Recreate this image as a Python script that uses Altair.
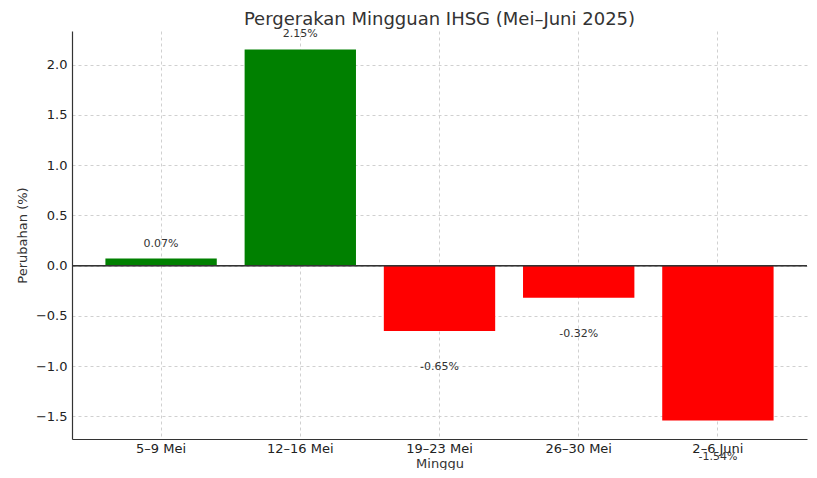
import altair as alt
import pandas as pd

weeks = ["5–9 Mei", "12–16 Mei", "19–23 Mei", "26–30 Mei", "2–6 Juni"]
changes = [0.07, 2.15, -0.65, -0.32, -1.54]
labels = ["0.07%", "2.15%", "-0.65%", "-0.32%", "-1.54%"]

df = pd.DataFrame({"week": weeks, "change": changes, "label": labels})

FONT = "DejaVu Sans"
ydom = [-1.7245, 2.3345]

x_enc = alt.X("week:N", sort=weeks, title="Minggu",
              scale=alt.Scale(paddingInner=0.2, paddingOuter=0.24),
              axis=alt.Axis(labelAngle=0, labelFontSize=13, titleFontSize=13,
                            labelColor="#222", titleColor="#333",
                            ticks=False, labelPadding=3,
                            titleY=28, titleBaseline="alphabetic",
                            grid=True, gridDash=[3, 3], gridColor="#d0d0d0",
                            domainColor="#333", domainWidth=1.2))
y_scale = alt.Scale(domain=ydom, nice=False, zero=False)

base = alt.Chart(df)

bars = base.mark_bar().encode(
    x=x_enc,
    y=alt.Y("change:Q", title="Perubahan (%)", scale=y_scale,
            axis=alt.Axis(values=[-1.5, -1.0, -0.5, 0.0, 0.5, 1.0, 1.5, 2.0],
                          format=".1f", labelFontSize=13, titleFontSize=13,
                          labelColor="#222", titleColor="#333",
                          ticks=False, labelPadding=5, titlePadding=6,
                          grid=True, gridDash=[3, 3], gridColor="#d0d0d0",
                          domainColor="#333", domainWidth=1.2)),
    y2=alt.datum(0),
    color=alt.condition("datum.change >= 0", alt.value("#008000"), alt.value("#ff0000")),
)

zero = base.mark_rule(color="#333", strokeWidth=1).encode(y=alt.datum(0))

pos_text = base.transform_filter("datum.change >= 0").transform_calculate(
    ly="datum.change + 0.1"
).mark_text(baseline="bottom", fontSize=11, color="#333", font=FONT).encode(
    x=alt.X("week:N", sort=weeks),
    y=alt.Y("ly:Q", scale=y_scale),
    text="label:N",
)

neg_text = base.transform_filter("datum.change < 0").transform_calculate(
    ly="datum.change - 0.3"
).mark_text(baseline="top", fontSize=11, color="#333", font=FONT).encode(
    x=alt.X("week:N", sort=weeks),
    y=alt.Y("ly:Q", scale=y_scale),
    text="label:N",
)

chart = alt.layer(bars, zero, pos_text, neg_text).properties(
    width=735, height=408,
    title=alt.TitleParams("Pergerakan Mingguan IHSG (Mei–Juni 2025)", fontSize=18,
                          font=FONT, fontWeight="normal", color="#333", offset=-1),
    autosize=alt.AutoSizeParams(type="none"),
    padding={"left": 64, "top": 23, "right": 2, "bottom": 31},
).configure_view(stroke=None).configure_axis(
    labelFont=FONT, titleFont=FONT, titleFontWeight="normal"
).configure_axisY(domain=True).configure_axisX(domain=True)

chart.save("out.html", embed_options={"renderer": "svg", "actions": False})
